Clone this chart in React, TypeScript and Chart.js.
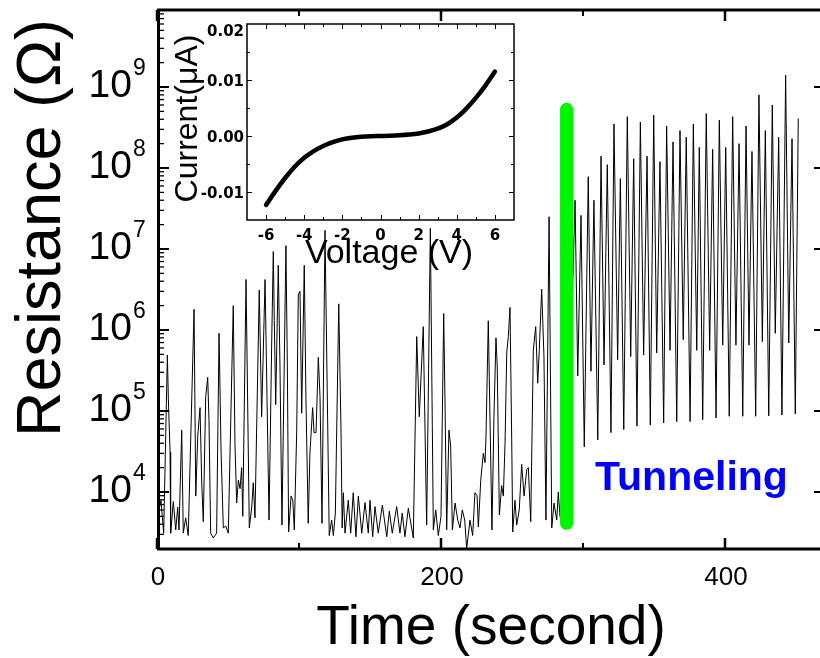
import React, { useEffect, useRef } from 'react';
import { Chart, registerables } from 'chart.js';

Chart.register(...registerables);

// ---------- main plot data: time (s) and resistance (ohm) ----------
const timeSec: number[] = [
  0.5, 2.8, 4.7, 7.3, 8.0, 9.2, 9.6, 11.5, 13.2, 14.6, 15.5, 17.4, 18.5, 20.2, 22.0,
  26.1, 27.3, 28.7, 30.3, 31.5, 32.6, 34.3, 35.7, 36.6, 37.8, 39.6, 42.0, 43.7, 45.1,
  46.7, 48.4, 50.2, 53.7, 54.9, 56.1, 57.3, 58.5, 59.6, 60.4, 62.7, 65.0, 66.7, 67.8,
  69.0, 72.0, 73.7, 76.1, 78.9, 80.8, 81.9, 82.6, 83.6, 85.4, 86.6, 88.0, 90.8, 91.8,
  92.7, 94.4, 95.6, 96.7, 98.4, 99.5, 100.7, 101.9, 103.7, 104.9, 106.5, 107.7, 109.6,
  110.6, 112.0, 113.6, 114.8, 116.2, 118.3, 121.3, 123.0, 124.2, 125.6, 128.0, 129.6,
  130.4, 131.2, 132.4, 134.7, 136.4, 138.2, 140.1, 141.8, 144.2, 146.5, 148.8, 150.0,
  151.9, 153.5, 155.8, 158.7, 161.8, 163.6, 165.7, 168.8, 171.1, 172.7, 174.6, 177.0,
  180.5, 182.9, 184.7, 187.5, 189.9, 192.5, 194.6, 196.3, 198.1, 200.0, 201.9, 202.8,
  204.0, 205.6, 206.8, 208.0, 209.9, 211.8, 213.4, 215.0, 216.7, 218.1, 220.4, 222.3,
  223.9, 225.4, 226.3, 228.0, 229.8, 231.0, 231.7, 233.3, 234.0, 235.9, 237.3, 238.7,
  239.6, 241.1, 242.7, 243.9, 245.1, 246.3, 247.4, 248.6, 249.8, 250.5, 252.1, 253.3,
  255.1, 256.8, 258.5, 260.4, 261.5, 263.2, 265.0, 266.7, 268.1, 269.2, 270.9, 272.5,
  273.9, 276.1, 278.0, 279.6, 281.5, 282.6, 283.8, 288.0,
  294.4, 296.3, 298.6, 300.9, 303.7, 305.6, 307.7, 310.4, 312.7, 314.8, 317.1, 319.7,
  321.8, 324.4, 326.3, 328.7, 331.2, 333.6, 335.7, 338.0, 340.4, 342.7, 345.1, 347.4,
  349.8, 351.9, 354.2, 356.8, 358.9, 361.3, 363.4, 366.0, 368.3, 370.6, 372.7, 375.4,
  377.7, 380.1, 381.9, 384.3, 386.8, 389.2, 391.3, 393.7, 396.0, 398.4, 400.5, 403.0,
  405.4, 407.7, 409.9, 412.5, 414.8, 416.9, 419.0, 421.6, 423.9, 426.3, 428.4, 430.8,
  433.3, 435.4, 437.8, 440.1, 442.7, 444.9, 447.2, 449.5, 451.6,
];

const resistance: number[] = [
  5.0e3, 7.9e3, 3.1e3, 4.9e5, 1.4e5, 3.1e4, 3.1e3, 7.6e3, 3.4e3, 6.5e3, 3.4e3, 5.8e4, 3.1e3, 4.8e3, 2.9e3,
  1.8e6, 8.9e3, 4.9e4, 1.1e5, 1.3e4, 4.3e3, 1.5e5, 2.6e5, 7.8e4, 3.1e3, 2.7e3, 3.1e3, 9.1e5, 3.3e4,
  3.6e3, 3.8e3, 3.1e3, 2.0e6, 4.0e4, 7.3e3, 1.4e4, 1.1e4, 2.0e4, 5.0e3, 4.2e6, 3.6e3, 6.5e3, 1.3e4,
  4.8e3, 3.1e6, 8.5e4, 4.2e6, 4.5e3, 7.5e5, 9.3e6, 1.3e6, 1.2e5, 6.3e6, 3.6e5, 3.9e3, 1.1e7, 3.6e5,
  3.2e3, 8.9e3, 8.0e3, 3.4e3, 5.8e4, 2.7e6, 3.0e6, 9.4e4, 6.3e6, 1.4e5, 4.1e3, 3.0e4, 1.1e5,
  5.4e4, 5.4e4, 4.6e5, 1.5e5, 4.1e3, 1.7e7, 2.9e3, 4.5e3, 2.9e3, 5.5e3, 2.1e6, 5.4e4,
  3.6e3, 9.8e3, 3.1e3, 7.9e3, 3.1e3, 9.8e3, 2.8e3, 8.9e3, 3.1e3, 7.4e3, 3.1e3, 7.9e3,
  2.8e3, 6.6e3, 3.1e3, 6.9e3, 2.8e3, 5.8e3, 3.1e3, 6.6e3, 3.1e3, 5.5e3, 2.8e3, 6.3e3,
  2.7e3, 8.3e5, 8.5e4, 1.1e6, 3.9e3, 1.8e7, 3.4e3, 6.0e3, 2.9e3, 5.0e3, 1.6e6, 1.4e5,
  3.4e3, 5.8e4, 3.7e4, 3.4e3, 7.3e3, 4.5e3, 3.6e3, 6.0e3, 4.5e3, 2.0e3, 4.5e3, 2.9e3,
  9.8e3, 9.0e3, 3.7e3, 1.4e4, 3.0e4, 2.3e4, 4.9e4, 1.3e6, 2.6e5, 3.4e3, 8.5e4, 8.0e5,
  3.6e5, 5.2e3, 1.2e4, 8.9e3, 4.0e4, 5.2e5, 8.3e5, 1.9e6, 4.4e4, 3.2e3, 7.9e3, 3.9e3,
  6.0e3, 2.2e4, 8.9e3, 1.9e4, 2.0e4, 4.3e3, 5.6e5, 1.1e6, 2.2e5, 5.6e5, 3.2e6, 4.8e5,
  4.5e3, 2.5e7, 3.6e3, 7.3e3, 4.5e3, 1.0e4, 5.0e3, 3.5e3,
  4.0e7, 2.7e5, 2.6e7, 3.6e4, 7.8e7, 3.1e5, 4.0e7, 4.4e4, 1.4e8, 3.7e5, 1.1e8, 5.4e4,
  3.5e8, 4.3e5, 7.4e7, 5.9e4, 4.3e8, 4.7e5, 1.3e8, 6.5e4, 3.7e8, 4.9e5, 1.4e8, 6.7e4,
  4.5e8, 5.2e5, 1.2e8, 7.1e4, 3.3e8, 5.6e5, 2.1e8, 7.4e4, 2.9e8, 7.6e5, 2.4e8, 7.4e4,
  3.5e8, 5.6e5, 1.8e8, 7.8e4, 4.7e8, 5.6e5, 1.7e8, 8.2e4, 3.9e8, 6.5e5, 1.8e8, 8.6e4,
  4.3e8, 6.5e5, 2.0e8, 8.6e4, 3.3e8, 6.5e5, 1.6e8, 8.6e4, 8.0e8, 7.2e5, 2.9e8, 8.7e4,
  6.0e8, 9.1e5, 2.4e8, 8.9e4, 1.4e9, 6.9e5, 2.3e8, 9.2e4, 4.1e8,
];

// green marker (start of tunneling) and label
const barTime = 288.4;
const barResistance = [4.1e3, 5.3e8];
const tunnelLabel = 'Tunneling';
const tunnelLabelTime = 308.5;
const tunnelLabelResistance = 1.06e4;

// main axes
const xRange = [0, 466.9];
const yRange = [1977, 8.93e9];
const xTickValues = [0, 100, 200, 300, 400];
const xTickLabels = [0, 200, 400];
const yDecades = [4, 5, 6, 7, 8, 9];
const xTitle = 'Time (second)';
const yTitle = 'Resistance (\u03A9)';

// ---------- inset data: I-V curve ----------
const voltage: number[] = [
  -6, -5.5, -5, -4.5, -4, -3.5, -3, -2.5, -2, -1.5, -1, -0.5, 0,
  0.5, 1, 1.5, 2, 2.5, 3, 3.5, 4, 4.5, 5, 5.5, 6,
];
const current: number[] = [
  -0.0123, -0.0098, -0.0075, -0.0055, -0.0039, -0.0027, -0.0018, -0.0011, -0.0006, -0.0003, -0.00013, -0.00004, 0,
  0.00004, 0.00012, 0.00025, 0.00045, 0.0008, 0.0013, 0.0021, 0.0033, 0.0049, 0.0068, 0.0090, 0.0115,
];
const insetXRange = [-7, 7];
const insetYRange = [-0.015, 0.02];
const insetXLabels = [-6, -4, -2, 0, 2, 4, 6];
const insetYLabels = [-0.01, 0, 0.01, 0.02];
const insetXTitle = 'Voltage (V)';
const insetYTitle = 'Current(\u03BCA)';

const SANS = '"Liberation Sans", Arial, Helvetica, sans-serif';

const mainDecor = {
  id: 'mainDecor',
  afterDraw(chart: any) {
    const { ctx, chartArea: a, scales } = chart;
    const x = scales.x;
    const y = scales.y;
    ctx.save();
    ctx.fillStyle = '#000';
    ctx.strokeStyle = '#000';

    // Tunneling label
    ctx.fillStyle = 'rgb(0,0,255)';
    ctx.font = `bold 41px ${SANS}`;
    ctx.textAlign = 'left';
    ctx.textBaseline = 'alphabetic';
    ctx.fillText(tunnelLabel, x.getPixelForValue(tunnelLabelTime), y.getPixelForValue(tunnelLabelResistance));
    ctx.fillStyle = '#000';

    // frame
    ctx.lineWidth = 3;
    ctx.beginPath();
    ctx.moveTo(a.left + 1.5, a.top - 1.5);
    ctx.lineTo(a.left + 1.5, a.bottom + 1.5);
    ctx.moveTo(a.left, a.bottom);
    ctx.lineTo(a.right + 2, a.bottom);
    ctx.moveTo(a.left, a.top);
    ctx.lineTo(a.right + 2, a.top);
    ctx.stroke();

    // x ticks (bottom and top, inward)
    xTickValues.forEach((v) => {
      const px = x.getPixelForValue(v);
      const major = xTickLabels.includes(v);
      const len = major ? 11 : 6;
      ctx.lineWidth = major ? 2.5 : 2;
      ctx.beginPath();
      ctx.moveTo(px, a.bottom);
      ctx.lineTo(px, a.bottom - len);
      ctx.moveTo(px, a.top);
      ctx.lineTo(px, a.top + len);
      ctx.stroke();
    });

    // y ticks left (major + minor), right (major)
    for (let d = 3; d <= 9; d++) {
      for (let k = 1; k <= 9; k++) {
        const v = k * Math.pow(10, d);
        if (v < y.min || v > y.max) continue;
        const py = y.getPixelForValue(v);
        if (py > a.bottom - 2 || py < a.top + 2) continue;
        const major = k === 1;
        ctx.lineWidth = major ? 2 : 1.3;
        ctx.beginPath();
        ctx.moveTo(a.left, py);
        ctx.lineTo(a.left + (major ? 12 : 7), py);
        if (major) {
          ctx.moveTo(a.right + 1, py);
          ctx.lineTo(a.right - 6, py);
        }
        ctx.stroke();
      }
    }

    // y tick labels 10^n
    yDecades.forEach((d) => {
      const py = y.getPixelForValue(Math.pow(10, d));
      ctx.textBaseline = 'alphabetic';
      ctx.font = `39px ${SANS}`;
      ctx.textAlign = 'right';
      ctx.fillText('10', a.left - 25, py + 10);
      ctx.font = `23px ${SANS}`;
      ctx.textAlign = 'left';
      ctx.fillText(String(d), a.left - 24, py - 12);
    });

    // x tick labels
    ctx.font = `26px ${SANS}`;
    ctx.textAlign = 'center';
    xTickLabels.forEach((v) => {
      ctx.fillText(String(v), x.getPixelForValue(v) + 1, a.bottom + 36);
    });

    // axis titles
    ctx.font = `55px ${SANS}`;
    ctx.textAlign = 'center';
    ctx.fillText(xTitle, 491, a.bottom + 95);

    ctx.save();
    ctx.translate(60, 228);
    ctx.rotate(-Math.PI / 2);
    ctx.font = `63px ${SANS}`;
    ctx.textAlign = 'center';
    ctx.fillText(yTitle, 0, 0);
    ctx.restore();

    ctx.restore();
  },
};

const insetDecor = {
  id: 'insetDecor',
  afterDraw(chart: any) {
    const { ctx, chartArea: a, scales } = chart;
    const x = scales.x;
    const y = scales.y;
    ctx.save();
    ctx.strokeStyle = '#000';
    ctx.fillStyle = '#000';
    ctx.lineWidth = 1.5;
    ctx.strokeRect(a.left, a.top, a.right - a.left, a.bottom - a.top);

    ctx.lineWidth = 1;
    // x ticks every 1 V
    for (let v = insetXRange[0] + 1; v < insetXRange[1]; v++) {
      const px = Math.round(x.getPixelForValue(v)) + 0.5;
      const len = v % 2 === 0 ? 5 : 3;
      ctx.beginPath();
      ctx.moveTo(px, a.bottom);
      ctx.lineTo(px, a.bottom - len);
      ctx.moveTo(px, a.top);
      ctx.lineTo(px, a.top + len);
      ctx.stroke();
    }
    // y ticks every 0.005
    for (let i = -2; i <= 3; i++) {
      const v = i * 0.005;
      const py = Math.round(y.getPixelForValue(v)) + 0.5;
      const len = i % 2 === 0 ? 5 : 3;
      ctx.beginPath();
      ctx.moveTo(a.left, py);
      ctx.lineTo(a.left + len, py);
      ctx.moveTo(a.right, py);
      ctx.lineTo(a.right - len, py);
      ctx.stroke();
    }

    // tick labels
    ctx.font = 'bold 15px "DejaVu Sans", Verdana, sans-serif';
    ctx.textBaseline = 'alphabetic';
    ctx.textAlign = 'center';
    insetXLabels.forEach((v) => {
      ctx.fillText(String(v), x.getPixelForValue(v), a.bottom + 20);
    });
    ctx.textAlign = 'right';
    insetYLabels.forEach((v) => {
      let py = y.getPixelForValue(v) + 5.5;
      if (py - 11 < a.top) py = a.top + 11.5;
      ctx.fillText(v.toFixed(2), a.left - 3, py);
    });

    // titles
    ctx.font = `34px ${SANS}`;
    ctx.textAlign = 'center';
    ctx.fillText(insetXTitle, 389, a.bottom + 43);

    ctx.save();
    ctx.translate(197, 118.5);
    ctx.rotate(-Math.PI / 2);
    ctx.font = `32px ${SANS}`;
    ctx.textAlign = 'center';
    ctx.fillText(insetYTitle, 0, 0);
    ctx.restore();

    ctx.restore();
  },
};

export default function App() {
  const mainRef = useRef<HTMLCanvasElement>(null);
  const insetRef = useRef<HTMLCanvasElement>(null);

  useEffect(() => {
    const mainChart = new Chart(mainRef.current as HTMLCanvasElement, {
      type: 'line',
      data: {
        datasets: [
          {
            label: 'onset',
            data: barResistance.map((r) => ({ x: barTime, y: r })),
            borderColor: 'rgb(0,245,0)',
            borderWidth: 13,
            borderCapStyle: 'round',
            pointRadius: 0,
            clip: false as any,
          },
          {
            label: 'R(t)',
            data: timeSec.map((t, i) => ({ x: t, y: resistance[i] })),
            borderColor: '#000',
            borderWidth: 1,
            pointRadius: 0,
            tension: 0,
          },
        ],
      } as any,
      options: {
        responsive: false,
        animation: false,
        devicePixelRatio: 1,
        events: [],
        layout: { padding: { left: 157, right: 0, top: 10, bottom: 109 } },
        plugins: { legend: { display: false }, tooltip: { enabled: false }, title: { display: false } },
        scales: {
          x: { type: 'linear', min: xRange[0], max: xRange[1], display: false },
          y: { type: 'logarithmic', min: yRange[0], max: yRange[1], display: false },
        },
      } as any,
      plugins: [mainDecor],
    });

    const insetChart = new Chart(insetRef.current as HTMLCanvasElement, {
      type: 'line',
      data: {
        datasets: [
          {
            label: 'I-V',
            data: voltage.map((v, i) => ({ x: v, y: current[i] })),
            borderColor: '#000',
            borderWidth: 4.5,
            borderCapStyle: 'round',
            borderJoinStyle: 'round',
            pointRadius: 0,
            cubicInterpolationMode: 'monotone',
          },
        ],
      } as any,
      options: {
        responsive: false,
        animation: false,
        devicePixelRatio: 1,
        events: [],
        layout: { padding: { left: 247, right: 306, top: 24, bottom: 438 } },
        plugins: { legend: { display: false }, tooltip: { enabled: false }, title: { display: false } },
        scales: {
          x: { type: 'linear', min: insetXRange[0], max: insetXRange[1], display: false },
          y: { type: 'linear', min: insetYRange[0], max: insetYRange[1], display: false },
        },
      } as any,
      plugins: [insetDecor],
    });

    return () => {
      mainChart.destroy();
      insetChart.destroy();
    };
  }, []);

  return (
    <div style={{ position: 'fixed', left: 0, top: 0, width: 820, height: 658, background: '#fff', overflow: 'hidden' }}>
      <canvas ref={mainRef} width={820} height={658} style={{ position: 'absolute', left: 0, top: 0 }} />
      <canvas ref={insetRef} width={820} height={658} style={{ position: 'absolute', left: 0, top: 0 }} />
    </div>
  );
}
